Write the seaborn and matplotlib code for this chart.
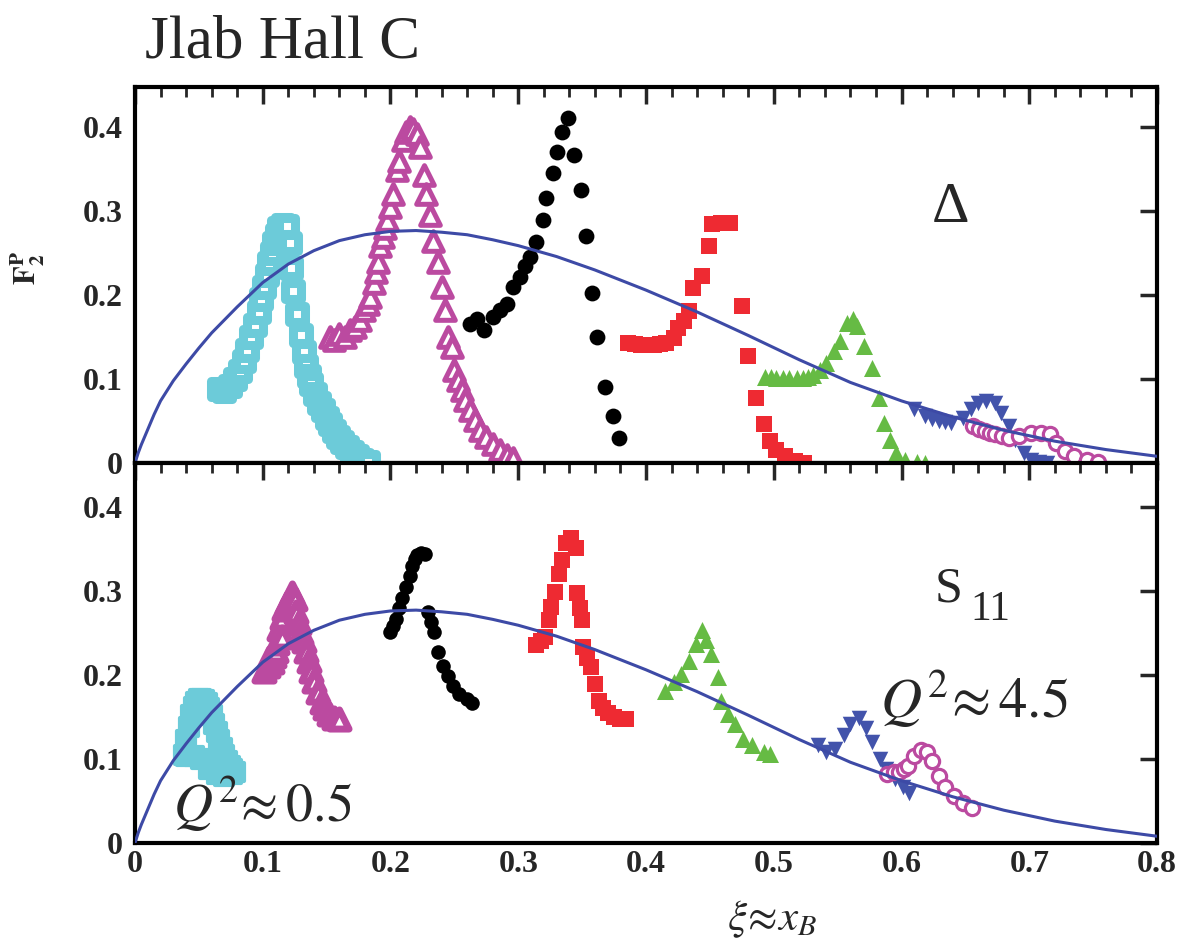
import matplotlib
matplotlib.use("Agg")
import matplotlib.pyplot as plt
import seaborn as sns
from matplotlib.ticker import FixedLocator, MultipleLocator, FixedFormatter

sns.set_style("white")
plt.rcParams["font.family"] = ["Liberation Serif", "DejaVu Serif"]
plt.rcParams["mathtext.fontset"] = "stix"

# ---------------- axis ticks ----------------
x_ticks = [0.0, 0.1, 0.2, 0.3, 0.4, 0.5, 0.6, 0.7, 0.8]
x_tick_labels = ["0", "0.1", "0.2", "0.3", "0.4", "0.5", "0.6", "0.7", "0.8"]
y_ticks = [0.0, 0.1, 0.2, 0.3, 0.4]
y_tick_labels = ["0", "0.1", "0.2", "0.3", "0.4"]

# ---------------- scaling curve (same in both panels) ----------------
curve_x = [0.0, 0.0025, 0.005, 0.0075, 0.01, 0.015, 0.02, 0.03, 0.04, 0.05, 0.06, 0.08,
           0.10, 0.12, 0.14, 0.16, 0.18, 0.20, 0.22, 0.24, 0.26, 0.28, 0.30, 0.33, 0.36,
           0.40, 0.44, 0.48, 0.52, 0.56, 0.60, 0.64, 0.68, 0.72, 0.76, 0.80]
curve_y = [0.0, 0.012, 0.022, 0.031, 0.040, 0.058, 0.074, 0.098, 0.118, 0.137, 0.155, 0.186,
           0.215, 0.237, 0.253, 0.265, 0.272, 0.276, 0.277, 0.275, 0.272, 0.266, 0.259, 0.246,
           0.230, 0.206, 0.180, 0.152, 0.123, 0.096, 0.074, 0.055, 0.039, 0.026, 0.016, 0.008]

# ---------------- Delta region (upper panel) ----------------
d_cyan_x = [0.066, 0.070, 0.074, 0.078, 0.082, 0.085, 0.088, 0.091, 0.094, 0.097, 0.099,
            0.101, 0.103, 0.105, 0.107, 0.109, 0.111, 0.113, 0.116, 0.119,
            0.121, 0.122, 0.124, 0.127, 0.130, 0.132, 0.134, 0.136, 0.138, 0.141, 0.144,
            0.147, 0.150, 0.153, 0.156, 0.159, 0.162, 0.166, 0.170, 0.174, 0.178, 0.182]
d_cyan_y = [0.088, 0.086, 0.092, 0.100, 0.110, 0.122, 0.135, 0.150, 0.165, 0.180, 0.195,
            0.210, 0.224, 0.238, 0.250, 0.262, 0.272, 0.280, 0.283, 0.282,
            0.262, 0.232, 0.205, 0.178, 0.152, 0.132, 0.116, 0.104, 0.094, 0.082, 0.072,
            0.063, 0.054, 0.046, 0.038, 0.031, 0.025, 0.019, 0.013, 0.008, 0.004, 0.001]

d_mag_x = [0.153, 0.156, 0.160, 0.164, 0.168, 0.172, 0.176, 0.179, 0.182, 0.184, 0.187,
           0.189, 0.190, 0.192, 0.194, 0.196, 0.197, 0.200, 0.202, 0.205, 0.207, 0.210,
           0.212, 0.215, 0.218, 0.221, 0.223, 0.226, 0.228, 0.231, 0.233, 0.237, 0.240,
           0.243, 0.245, 0.248, 0.250, 0.253, 0.256, 0.258, 0.262, 0.266, 0.270, 0.275,
           0.280, 0.286, 0.291, 0.296]
d_mag_y = [0.150, 0.147, 0.154, 0.150, 0.158, 0.162, 0.170, 0.182, 0.190, 0.198, 0.214,
           0.228, 0.240, 0.258, 0.269, 0.280, 0.289, 0.305, 0.321, 0.349, 0.360, 0.385,
           0.395, 0.400, 0.398, 0.392, 0.377, 0.343, 0.321, 0.295, 0.265, 0.240, 0.210,
           0.182, 0.150, 0.138, 0.111, 0.099, 0.087, 0.075, 0.063, 0.051, 0.039, 0.031,
           0.023, 0.015, 0.0095, 0.0055]

d_black_x = [0.262, 0.268, 0.273, 0.280, 0.286, 0.291, 0.296, 0.301, 0.305, 0.309, 0.314,
             0.319, 0.322, 0.327, 0.330, 0.334, 0.339, 0.344, 0.349, 0.353, 0.358, 0.362,
             0.368, 0.374, 0.379]
d_black_y = [0.166, 0.172, 0.158, 0.174, 0.182, 0.190, 0.210, 0.222, 0.235, 0.245, 0.263,
             0.290, 0.316, 0.345, 0.370, 0.394, 0.411, 0.367, 0.325, 0.270, 0.203, 0.150,
             0.090, 0.056, 0.030]

d_red_x = [0.386, 0.391, 0.396, 0.401, 0.406, 0.411, 0.416, 0.422, 0.425, 0.430, 0.434,
           0.437, 0.444, 0.449, 0.452, 0.459, 0.466, 0.475, 0.480, 0.486, 0.492, 0.497,
           0.502, 0.509, 0.517, 0.524]
d_red_y = [0.143, 0.142, 0.141, 0.141, 0.141, 0.142, 0.143, 0.149, 0.161, 0.169, 0.181,
           0.209, 0.223, 0.259, 0.285, 0.286, 0.286, 0.187, 0.127, 0.078, 0.046, 0.026,
           0.016, 0.008, 0.002, 0.0]

d_green_x = [0.493, 0.498, 0.502, 0.507, 0.512, 0.518, 0.523, 0.527, 0.531, 0.536, 0.541,
             0.547, 0.552, 0.557, 0.562, 0.565, 0.571, 0.577, 0.582, 0.586, 0.591, 0.596,
             0.603, 0.612, 0.618]
d_green_y = [0.103, 0.102, 0.101, 0.101, 0.101, 0.101, 0.101, 0.103, 0.105, 0.111, 0.119,
             0.133, 0.145, 0.167, 0.171, 0.163, 0.139, 0.113, 0.078, 0.048, 0.028, 0.012,
             0.004, 0.001, 0.0]

d_blue_x = [0.610, 0.618, 0.624, 0.629, 0.634, 0.639, 0.648, 0.654, 0.660, 0.666, 0.673,
            0.678, 0.684, 0.689, 0.696, 0.701, 0.708, 0.714]
d_blue_y = [0.064, 0.056, 0.053, 0.050, 0.049, 0.048, 0.054, 0.064, 0.072, 0.074, 0.072,
            0.060, 0.044, 0.028, 0.012, 0.004, 0.001, 0.0]

d_purple_x = [0.656, 0.661, 0.665, 0.669, 0.673, 0.679, 0.684, 0.692, 0.701, 0.709, 0.716,
              0.721, 0.728, 0.735, 0.745, 0.754]
d_purple_y = [0.044, 0.041, 0.038, 0.036, 0.034, 0.032, 0.030, 0.032, 0.036, 0.036, 0.034,
              0.024, 0.014, 0.008, 0.004, 0.001]

# ---------------- S11 region (lower panel) ----------------
s_cyan_x = [0.038, 0.040, 0.042, 0.044, 0.046, 0.048, 0.050, 0.052, 0.054, 0.056, 0.058,
            0.060, 0.062, 0.064, 0.066, 0.068, 0.070, 0.072, 0.074, 0.076, 0.078,
            0.040, 0.046, 0.052, 0.058, 0.064, 0.070, 0.076]
s_cyan_y = [0.105, 0.122, 0.138, 0.152, 0.162, 0.168, 0.171, 0.171, 0.170, 0.166, 0.160,
            0.152, 0.142, 0.132, 0.122, 0.113, 0.105, 0.098, 0.092, 0.088, 0.085,
            0.104, 0.104, 0.100, 0.088, 0.082, 0.080, 0.082]

s_mag_x = [0.101, 0.104, 0.105, 0.107, 0.109, 0.110, 0.111, 0.113, 0.115, 0.115, 0.117,
           0.119, 0.121, 0.123, 0.125, 0.126, 0.128, 0.130, 0.132, 0.134, 0.136, 0.138,
           0.140, 0.143, 0.146, 0.149, 0.152, 0.156, 0.160]
s_mag_y = [0.205, 0.210, 0.220, 0.215, 0.222, 0.228, 0.238, 0.255, 0.268, 0.245, 0.278,
           0.285, 0.292, 0.297, 0.290, 0.275, 0.262, 0.250, 0.240, 0.228, 0.216, 0.205,
           0.193, 0.180, 0.168, 0.160, 0.153, 0.149, 0.148]

s_black_x = [0.200, 0.202, 0.204, 0.207, 0.209, 0.212, 0.215, 0.217, 0.219, 0.221, 0.224,
             0.227, 0.229, 0.232, 0.234, 0.237, 0.241, 0.245, 0.249, 0.254, 0.260, 0.264]
s_black_y = [0.251, 0.258, 0.267, 0.279, 0.291, 0.305, 0.318, 0.330, 0.338, 0.342, 0.345,
             0.344, 0.275, 0.263, 0.251, 0.227, 0.211, 0.199, 0.187, 0.177, 0.171, 0.167]

s_red_x = [0.314, 0.318, 0.321, 0.324, 0.326, 0.329, 0.332, 0.334, 0.337, 0.341, 0.345,
           0.346, 0.348, 0.350, 0.351, 0.354, 0.357, 0.360, 0.363, 0.366, 0.370, 0.375,
           0.380, 0.384]
s_red_y = [0.235, 0.240, 0.245, 0.265, 0.281, 0.299, 0.320, 0.337, 0.357, 0.363, 0.351,
           0.297, 0.280, 0.265, 0.233, 0.220, 0.209, 0.189, 0.169, 0.160, 0.155, 0.150,
           0.148, 0.147]

s_green_x = [0.415, 0.422, 0.427, 0.434, 0.439, 0.444, 0.447, 0.451, 0.456, 0.459, 0.464,
             0.470, 0.476, 0.483, 0.492, 0.497]
s_green_y = [0.181, 0.191, 0.201, 0.217, 0.237, 0.253, 0.241, 0.225, 0.197, 0.169, 0.153,
             0.141, 0.124, 0.116, 0.108, 0.106]

s_blue_x = [0.535, 0.541, 0.548, 0.555, 0.560, 0.567, 0.572, 0.577, 0.583, 0.588, 0.595,
            0.601, 0.606]
s_blue_y = [0.116, 0.108, 0.112, 0.129, 0.141, 0.149, 0.137, 0.120, 0.100, 0.088, 0.076,
            0.066, 0.060]

s_purple_x = [0.589, 0.594, 0.598, 0.602, 0.605, 0.610, 0.615, 0.620, 0.624, 0.629, 0.634,
              0.641, 0.648, 0.655]
s_purple_y = [0.082, 0.084, 0.084, 0.088, 0.092, 0.104, 0.110, 0.108, 0.098, 0.080, 0.066,
              0.056, 0.048, 0.042]

# ---------------- colours ----------------
CURVE = "#3d4aa6"
CYAN = "#6ccbd9"
MAGENTA = "#bb4aa0"
BLACK = "#000000"
RED = "#ee2a32"
GREEN = "#66bb44"
BLUE = "#4253ab"

# (x, y, marker, area, face, edge, edge width)
upper_series = [
    (d_cyan_x, d_cyan_y, "s", 130, "white", CYAN, 6.5),
    (d_mag_x, d_mag_y, "^", 200, "white", MAGENTA, 3.6),
    (d_black_x, d_black_y, "o", 130, BLACK, BLACK, 0.0),
    (d_red_x, d_red_y, "s", 135, RED, RED, 0.0),
    (d_green_x, d_green_y, "^", 150, GREEN, GREEN, 0.0),
    (d_blue_x, d_blue_y, "v", 125, BLUE, BLUE, 0.0),
    (d_purple_x, d_purple_y, "o", 105, "white", MAGENTA, 2.3),
]
lower_series = [
    (s_cyan_x, s_cyan_y, "s", 150, CYAN, CYAN, 3.0),
    (s_mag_x, s_mag_y, "^", 190, "white", MAGENTA, 5.0),
    (s_black_x, s_black_y, "o", 110, BLACK, BLACK, 0.0),
    (s_red_x, s_red_y, "s", 135, RED, RED, 0.0),
    (s_green_x, s_green_y, "^", 150, GREEN, GREEN, 0.0),
    (s_blue_x, s_blue_y, "v", 125, BLUE, BLUE, 0.0),
    (s_purple_x, s_purple_y, "o", 105, "white", MAGENTA, 2.3),
]

fig = plt.figure(figsize=(11.81, 9.48), dpi=100)
ax_top = fig.add_axes([0.1143, 0.5116, 0.8654, 0.3966])
ax_bot = fig.add_axes([0.1143, 0.1108, 0.8654, 0.4008])


def draw_panel(ax, series, ymax, show_xlabels):
    for sx, sy, mk, size, face, edge, lw in series:
        sns.scatterplot(x=sx, y=sy, ax=ax, marker=mk, s=size, color=face,
                        edgecolor=edge, linewidth=lw, legend=False, zorder=3)
    sns.lineplot(x=curve_x, y=curve_y, ax=ax, color=CURVE, linewidth=2.2,
                 estimator=None, zorder=5)
    ax.set_xlim(0, 0.8)
    ax.set_ylim(0, ymax)
    ax.set_xlabel("")
    ax.set_ylabel("")
    ax.xaxis.set_major_locator(FixedLocator(x_ticks))
    ax.xaxis.set_minor_locator(MultipleLocator(0.02))
    ax.yaxis.set_major_locator(FixedLocator(y_ticks))
    ax.yaxis.set_major_formatter(FixedFormatter(y_tick_labels))
    if show_xlabels:
        ax.xaxis.set_major_formatter(FixedFormatter(x_tick_labels))
    else:
        ax.tick_params(axis="x", labelbottom=False)
    ax.tick_params(which="both", direction="in", top=True, right=True)
    ax.tick_params(which="major", length=12, width=2.5)
    ax.tick_params(which="minor", length=7, width=2.0)
    ax.tick_params(axis="y", pad=9)
    ax.tick_params(axis="x", pad=5)
    for lab in ax.get_xticklabels() + ax.get_yticklabels():
        lab.set_fontweight("bold")
        lab.set_fontsize(23)
    for sp in ax.spines.values():
        sp.set_linewidth(3)
        sp.set_color("black")
        sp.set_visible(True)


draw_panel(ax_top, upper_series, 0.448, False)
draw_panel(ax_bot, lower_series, 0.452, True)

# region labels
ax_top.text(0.638, 0.287, "\u0394", fontsize=42, ha="center", va="baseline")
ax_bot.text(0.626, 0.287, "S", fontsize=36, ha="left", va="baseline")
ax_bot.text(0.6536, 0.2655, "11", fontsize=30, ha="left", va="baseline")
ax_bot.text(0.583, 0.149, r"$Q^{2}\!\approx 4.5$", fontsize=41, ha="left", va="baseline")
ax_bot.text(0.0297, 0.025, r"$Q^{2}\!\approx 0.5$", fontsize=39, ha="left", va="baseline")

fig.text(145 / 1181, 1 - 57 / 948, "Jlab Hall C", fontsize=44, ha="left", va="baseline")
fig.text(772 / 1181, 1 - 930 / 948, r"$\xi\!\approx\! x_B$", fontsize=31,
         ha="center", va="baseline")
fig.text(28 / 1181, 1 - 268 / 948, r"$\mathbf{F}_{\mathbf{2}}^{\mathbf{P}}$", fontsize=22,
         rotation=90, ha="center", va="center")

fig.savefig("out.png", dpi=100)
